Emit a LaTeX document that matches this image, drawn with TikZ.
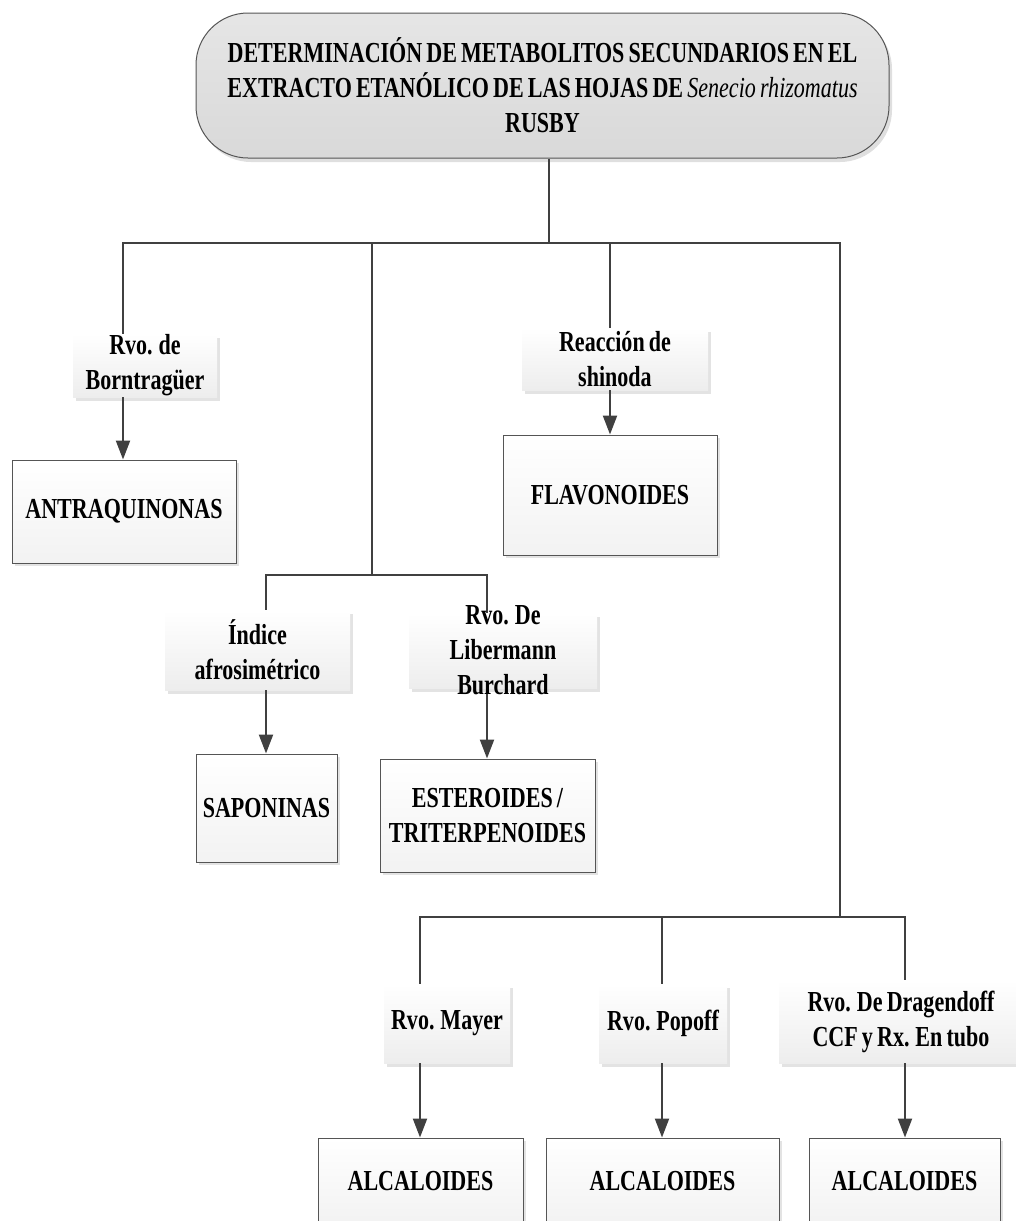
\documentclass[tikz,border=0pt]{standalone}
\usepackage{fontspec}
\setmainfont{Liberation Serif}[FakeStretch=0.76, WordSpace=0.75]
\usetikzlibrary{arrows.meta,shadows}
\definecolor{ln}{HTML}{404040}
\definecolor{bd}{HTML}{555555}
\begin{document}
\begin{tikzpicture}[x=1pt,y=-1pt,
  every node/.style={font=\fontsize{29}{35}\selectfont\bfseries, align=center, inner sep=0pt},
  conn/.style={draw=ln, line width=2.2pt},
  arr/.style={conn, -{Triangle[length=19pt,width=14pt]}},
  titlebox/.style={draw=bd, line width=1pt, rounded corners=52pt, top color=gray!20, bottom color=gray!30,
    drop shadow={shadow xshift=3pt, shadow yshift=-4pt, fill=gray!25, opacity=1}},
  testbox/.style={top color=white, bottom color=gray!14,
    drop shadow={shadow xshift=3pt, shadow yshift=-4pt, fill=gray!22, opacity=1}},
  resbox/.style={draw=bd, line width=1pt, top color=white, bottom color=gray!10,
    drop shadow={shadow xshift=3pt, shadow yshift=-3pt, fill=gray!22, opacity=1}}]
\useasboundingbox (0,0) rectangle (1016,1221);

% drop x positions
\coordinate (xT) at (549,0);
\coordinate (xA) at (123,0);
\coordinate (xB) at (372,0);
\coordinate (xC) at (610,0);
\coordinate (xD) at (840,0);
\coordinate (xB1) at (266,0);
\coordinate (xB2) at (487,0);
\coordinate (xD1) at (420,0);
\coordinate (xD2) at (662,0);
\coordinate (xD3) at (905,0);
\coordinate (h1) at (0,243);
\coordinate (h2) at (0,575);
\coordinate (h3) at (0,917);

% nodes
\node[titlebox, minimum width=693pt, minimum height=145pt] (title) at (542.5,85.5)
 {DETERMINACIÓN DE METABOLITOS SECUNDARIOS EN EL\\EXTRACTO ETANÓLICO DE LAS HOJAS DE {\mdseries\itshape Senecio rhizomatus}\\RUSBY};

\node[testbox, minimum width=144pt, minimum height=63pt] (bor) at (145,365.5) {Rvo. de\\Borntragüer};
\node[resbox, minimum width=224pt, minimum height=103pt] (antra) at (124,511.5) {ANTRAQUINONAS};

\node[testbox, minimum width=186pt, minimum height=62pt] (shin) at (615,359) {Reacción de\\shinoda};
\node[resbox, minimum width=214pt, minimum height=120pt] (flav) at (610,495) {FLAVONOIDES};

\node[testbox, minimum width=185pt, minimum height=80pt] (ind) at (257.5,650) {Índice\\afrosimétrico};
\node[resbox, minimum width=141pt, minimum height=108pt] (sapo) at (266.5,808) {SAPONINAS};

\node[testbox, minimum width=188pt, minimum height=75pt] (lib) at (503,650.5) {};
\node[resbox, minimum width=215pt, minimum height=113pt] (est) at (487.5,815.5) {ESTEROIDES /\\TRITERPENOIDES};

\node[testbox, minimum width=126pt, minimum height=79pt] (may) at (447,1023.5) {Rvo. Mayer};
\node[testbox, minimum width=128pt, minimum height=79pt] (pop) at (663,1023.5) {Rvo. Popoff};
\node[testbox, minimum width=244pt, minimum height=83pt] (dra) at (901,1021.5) {Rvo. De Dragendoff\\CCF y Rx. En tubo};

\node[resbox, minimum width=205pt, minimum height=86pt] (al1) at (420.5,1181) {ALCALOIDES};
\node[resbox, minimum width=233pt, minimum height=86pt] (al2) at (662.5,1181) {ALCALOIDES};
\node[resbox, minimum width=191pt, minimum height=86pt] (al3) at (904.5,1181) {ALCALOIDES};

% connectors
\draw[conn] (xT |- title.south) -- (xT |- h1);
\draw[conn] (xA |- bor.north) -- (xA |- h1) -- (xD |- h1) -- (xD |- h3);
\draw[conn] (xB |- h1) -- (xB |- h2);
\draw[conn] (xC |- h1) -- (xC |- shin.north);
\draw[conn] (xB1 |- ind.north) -- (xB1 |- h2) -- (xB2 |- h2) -- (xB2 |- lib.north);
\draw[conn] (xD1 |- may.north) -- (xD1 |- h3) -- (xD3 |- h3) -- (xD3 |- dra.north);
\draw[conn] (xD2 |- h3) -- (xD2 |- pop.north);

\draw[arr] (xA |- bor.south) -- (xA |- antra.north);
\draw[arr] (xC |- shin.south) -- (xC |- flav.north);
\draw[arr] (xB1 |- ind.south) -- (xB1 |- sapo.north);
\draw[arr] (xB2 |- lib.south) -- (xB2 |- est.north);
\draw[arr] (xD1 |- may.south) -- (xD1 |- al1.north);
\draw[arr] (xD2 |- pop.south) -- (xD2 |- al2.north);
\draw[arr] (xD3 |- dra.south) -- (xD3 |- al3.north);

% label of the Libermann box drawn over its connectors
\node (libtext) at (lib.center) {Rvo. De\\Libermann\\Burchard};
\end{tikzpicture}
\end{document}
